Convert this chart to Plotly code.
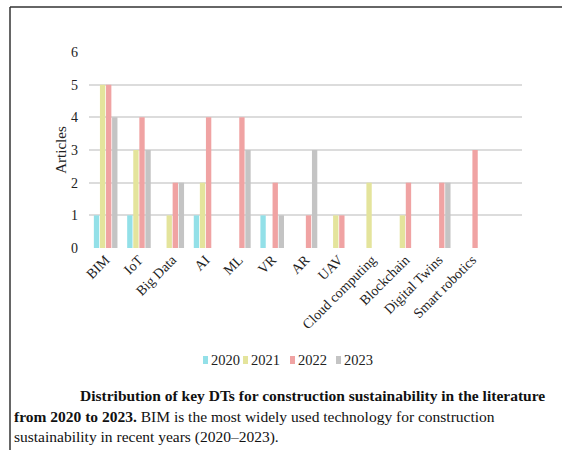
import plotly.graph_objects as go

categories = ["BIM", "IoT", "Big Data", "AI", "ML", "VR", "AR", "UAV",
              "Cloud computing", "Blockchain", "Digital Twins", "Smart robotics"]
years = ["2020", "2021", "2022", "2023"]
v2020 = [1, 1, 0, 1, 0, 1, 0, 0, 0, 0, 0, 0]
v2021 = [5, 3, 1, 2, 0, 0, 0, 1, 2, 1, 0, 0]
v2022 = [5, 4, 2, 4, 4, 2, 1, 1, 0, 2, 2, 3]
v2023 = [4, 3, 2, 0, 3, 1, 3, 0, 0, 0, 2, 0]
yticks = [0, 1, 2, 3, 4, 5, 6]
colors = ["#93e0e8", "#e4e49c", "#f0a3a3", "#c4c4c4"]

W, H = 562, 450
L, R, T, B = 89, 522, 52, 248

def px(x):
    return (x - L) / (R - L)

def py(y):
    return (B - y) / (B - T)

FONT = "Liberation Serif, Times New Roman, serif"

fig = go.Figure()
for yr, vals, c in zip(years, [v2020, v2021, v2022, v2023], colors):
    fig.add_trace(go.Bar(x=list(range(len(categories))), y=vals, name=yr,
                         marker=dict(color=c, line=dict(width=0))))

fig.update_layout(
    width=W, height=H,
    margin=dict(l=L, r=W - R, t=T, b=H - B),
    paper_bgcolor="white", plot_bgcolor="white",
    barmode="group", bargap=0.27, bargroupgap=0.12,
    font=dict(family=FONT, size=14, color="#222"),
    showlegend=False,
    xaxis=dict(range=[-0.5, 12.5], tickmode="array", tickvals=list(range(len(categories))),
               ticktext=categories, tickangle=-45, showgrid=False, zeroline=False,
               showline=False, ticks="", tickfont=dict(family=FONT, size=14, color="#222")),
    yaxis=dict(range=[0, 6], tickmode="array", tickvals=yticks, showgrid=True,
               gridcolor="#dcdcdc", gridwidth=1.5, zeroline=False, showline=False,
               ticks="", ticklabelstandoff=10,
               tickfont=dict(family=FONT, size=14, color="#222"),
               title=dict(text="Articles", font=dict(family=FONT, size=15, color="#222"),
                          standoff=0)),
)

# custom compact legend
sq_x = [203, 243, 290, 336]
for yr, c, sx in zip(years, colors, sq_x):
    fig.add_shape(type="rect", xref="paper", yref="paper",
                  x0=px(sx), x1=px(sx + 5), y0=py(356), y1=py(364),
                  fillcolor=c, line=dict(width=0))
    fig.add_annotation(xref="paper", yref="paper", x=px(sx + 6), y=py(360),
                       xanchor="left", yanchor="middle", showarrow=False,
                       text=yr, font=dict(family=FONT, size=14.5, color="#222"))

# frame lines
fig.add_shape(type="line", xref="paper", yref="paper", x0=px(10), x1=px(562),
              y0=py(7), y1=py(7), line=dict(color="#333", width=1.5))
fig.add_shape(type="line", xref="paper", yref="paper", x0=px(10), x1=px(10),
              y0=py(7), y1=py(452), line=dict(color="#333", width=1.5))

capfont = dict(family=FONT, size=15.5, color="#111")
fig.add_annotation(xref="paper", yref="paper", x=px(78), y=py(395), xanchor="left",
                   yanchor="middle", showarrow=False, font=capfont,
                   text="<b>Distribution of key DTs for construction sustainability in the literature</b>")
fig.add_annotation(xref="paper", yref="paper", x=px(12), y=py(416), xanchor="left",
                   yanchor="middle", showarrow=False, font=capfont,
                   text="<b>from 2020 to 2023.</b> BIM is the most widely used technology for construction")
fig.add_annotation(xref="paper", yref="paper", x=px(12), y=py(437), xanchor="left",
                   yanchor="middle", showarrow=False, font=capfont,
                   text="sustainability in recent years (2020\u20132023).")

fig.write_html("out.html", config={"displayModeBar": False},
               post_script="document.body.style.margin='0';document.body.style.overflow='hidden';")
